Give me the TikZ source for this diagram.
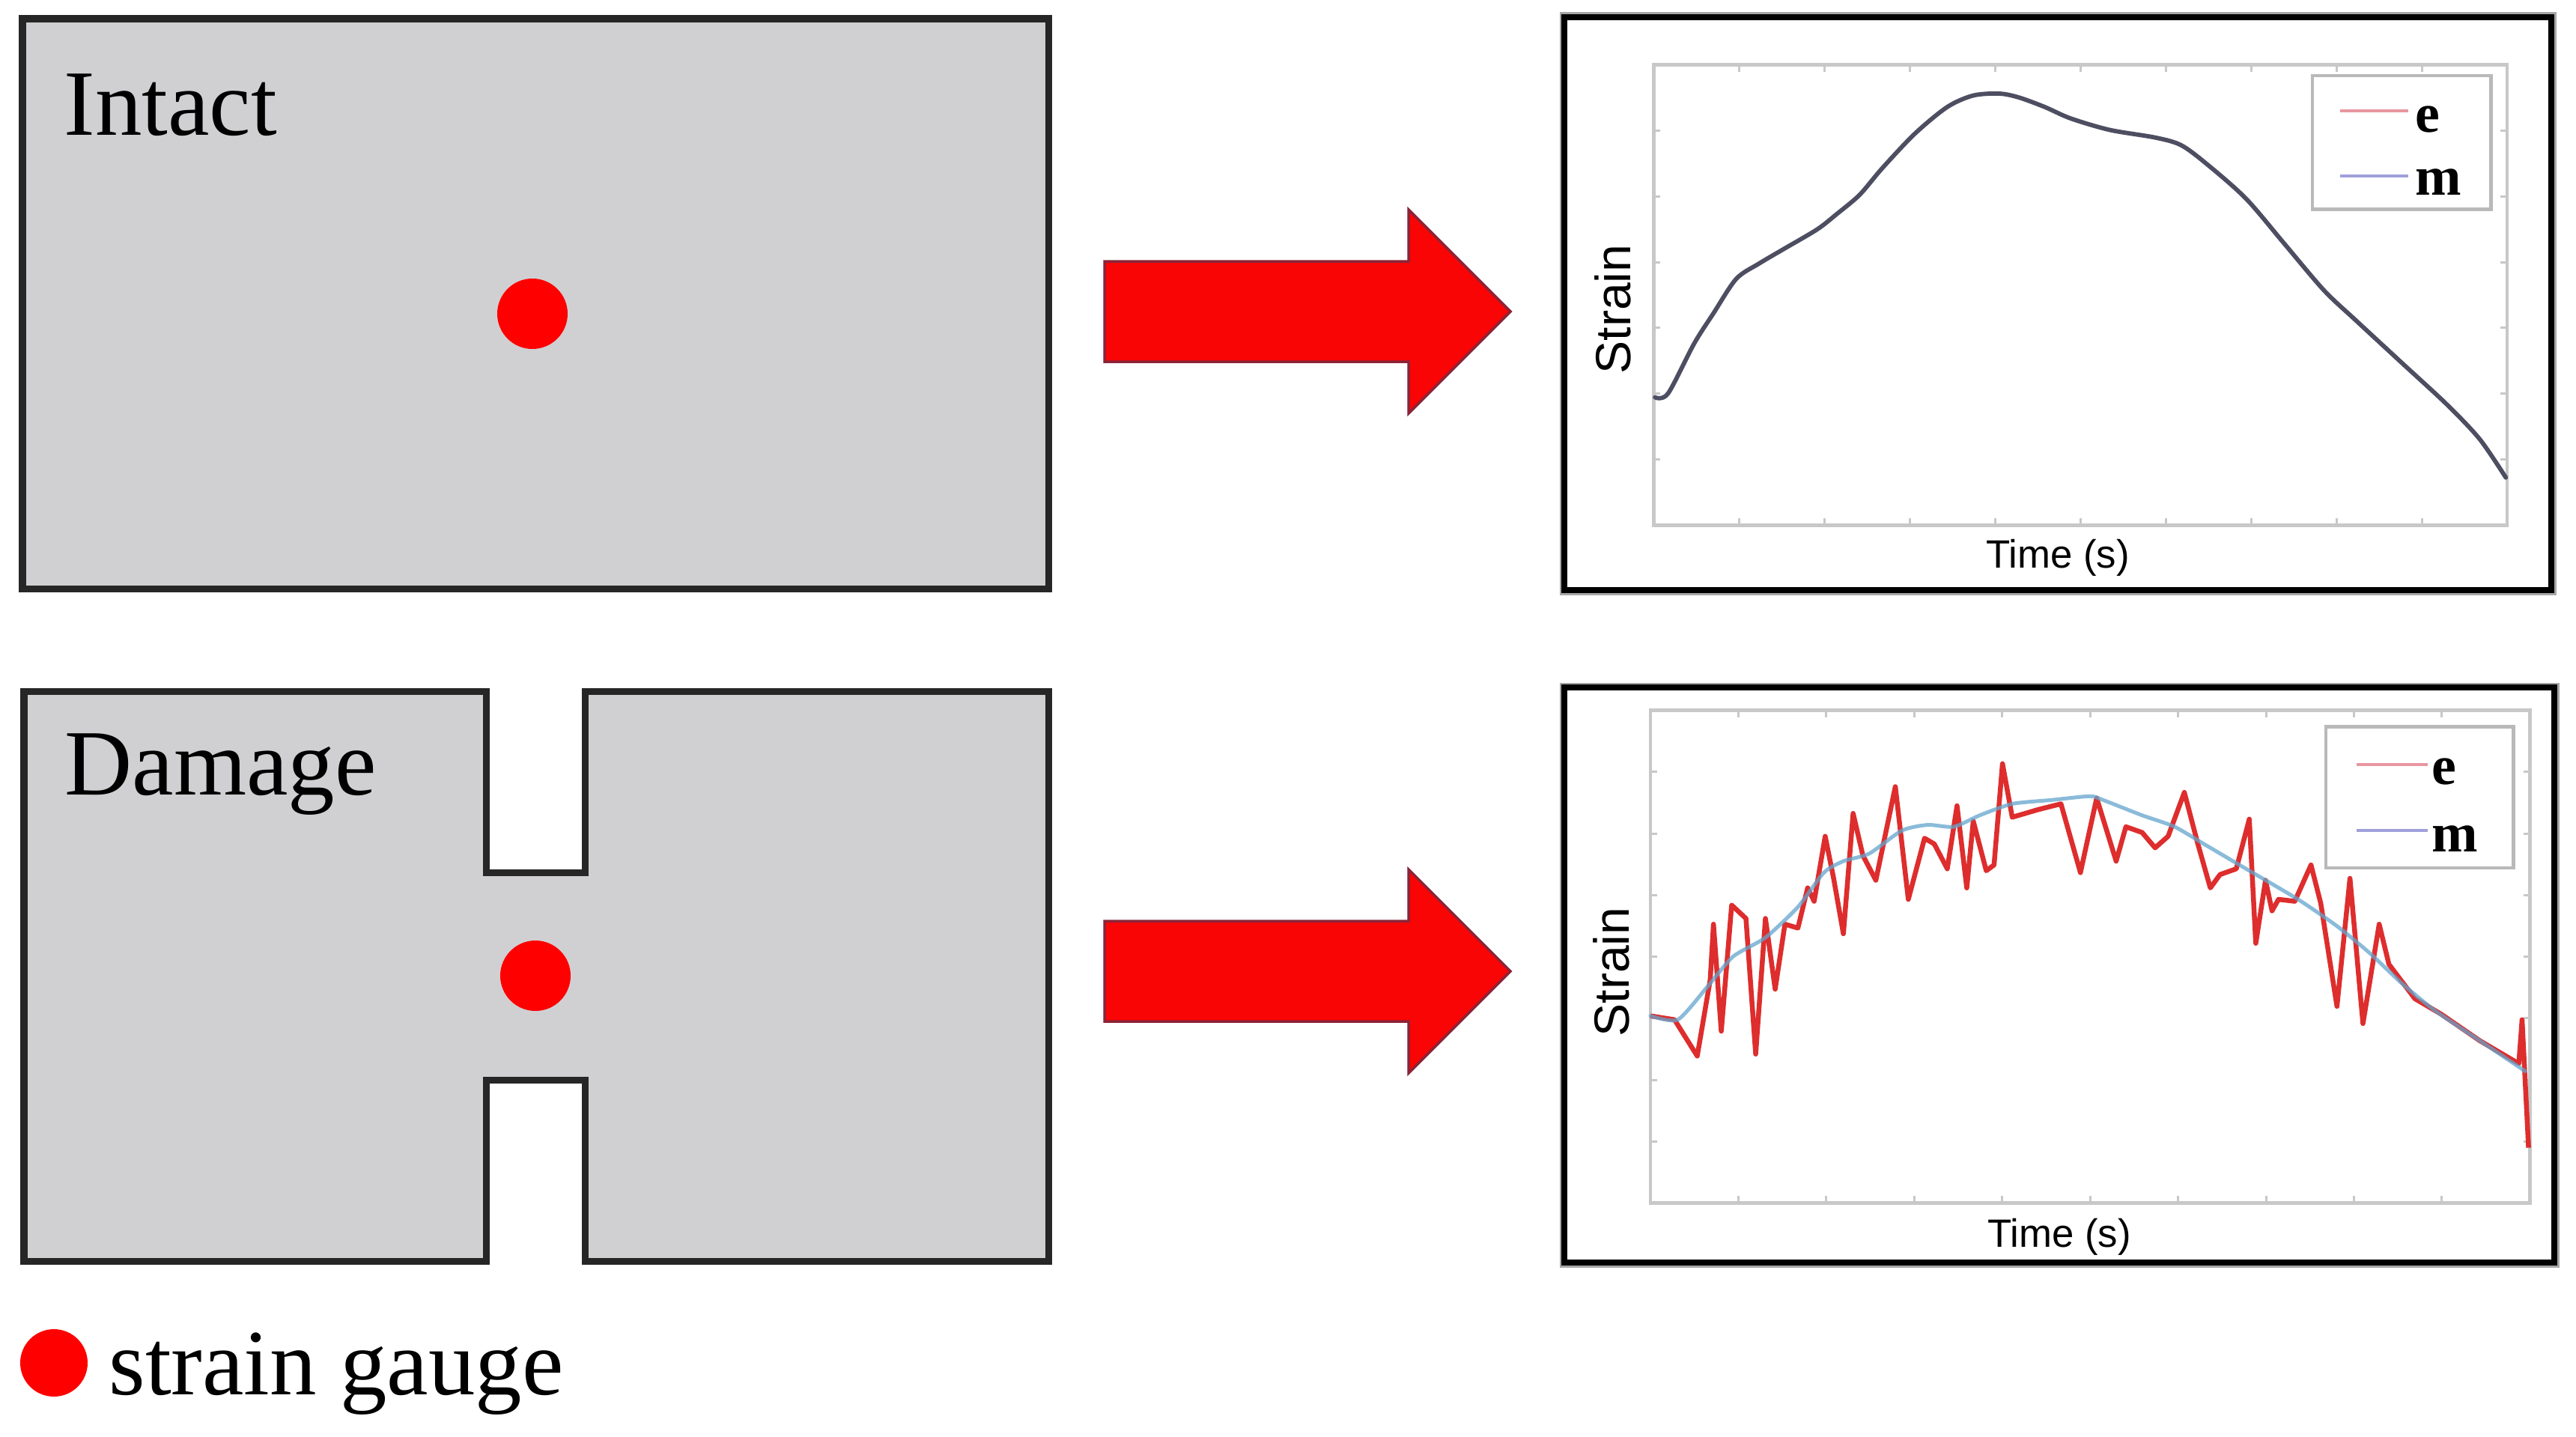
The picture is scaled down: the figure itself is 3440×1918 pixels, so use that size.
\documentclass[tikz,border=0pt]{standalone}
\usepackage{fontspec}
\setmainfont{Liberation Serif}
\newfontfamily\arialf{Liberation Sans}
\definecolor{panelgray}{RGB}{208,208,210}
\definecolor{paneledge}{RGB}{38,38,38}
\definecolor{gaugered}{RGB}{255,0,0}
\definecolor{arrowred}{RGB}{250,5,5}
\definecolor{arrowedge}{RGB}{140,35,55}
\definecolor{axisgray}{RGB}{200,200,200}
\definecolor{leggray}{RGB}{185,185,185}
\definecolor{curvegray}{RGB}{78,78,98}
\definecolor{noisered}{RGB}{222,45,45}
\definecolor{smoothblue}{RGB}{100,165,205}
\definecolor{legred}{RGB}{232,150,160}
\definecolor{legblue}{RGB}{160,160,220}
\tikzset{
  panel/.style={fill=panelgray, draw=paneledge, line width=0.09cm, line join=miter},
  gauge/.style={fill=gaugered},
  bigarrow/.style={fill=arrowred, draw=arrowedge, line width=0.035cm, line join=miter},
  plotframe/.style={draw=black, line width=0.085cm},
  plothalo/.style={draw=gray!70, line width=0.13cm},
  axisbox/.style={draw=axisgray, line width=0.045cm},
  tickmark/.style={draw=axisgray, line width=0.03cm},
  legbox/.style={draw=leggray, line width=0.045cm, fill=white},
  bigtext/.style={font=\fontsize{35.5}{40}\selectfont, inner sep=0pt},
  axlabel/.style={font=\arialf\fontsize{18.8}{22}\selectfont, inner sep=0pt},
  timelabel/.style={font=\arialf\fontsize{15}{18}\selectfont, inner sep=0pt},
  legtext/.style={font=\bfseries\fontsize{21}{24}\selectfont, inner sep=0pt},
}
\begin{document}
\begin{tikzpicture}[x=0.01cm,y=-0.01cm]
\useasboundingbox[fill=white] (0,0) rectangle (3440,1918);

% ---------- left panels ----------
\draw[panel] (30,25) rectangle (1400,786);
\node[bigtext, anchor=base west] (intact) at (85,180) {Intact};
\fill[gauge] (711,419) circle (47);

\draw[panel] (32,923) -- (649,923) -- (649,1165) -- (781,1165) -- (781,923)
  -- (1400,923) -- (1400,1684) -- (781,1684) -- (781,1442) -- (649,1442)
  -- (649,1684) -- (32,1684) -- cycle;
\node[bigtext, anchor=base west] (damage) at (86,1061) {Damage};
\fill[gauge] (715,1303) circle (47);

\fill[gauge] (72,1820) circle (45);
\node[bigtext, anchor=base west] (sg) at (145,1862) {strain gauge};

% ---------- arrows ----------
\foreach \dy in {0,881}{
  \draw[bigarrow] (1475,349+\dy) -- (1881,349+\dy) -- (1881,280+\dy) -- (2017,416+\dy)
    -- (1881,552+\dy) -- (1881,483+\dy) -- (1475,483+\dy) -- cycle;
}

% ---------- top plot ----------
\draw[plothalo] (2089,23) rectangle (3407,788);
\draw[plotframe, fill=white] (2089,23) rectangle (3407,788);
\begin{scope}[shift={(2080,0)}, xscale=0.8673, yscale=0.5102]
  \draw[axisbox] (148,170) rectangle (1462,1375);
  \foreach \k in {1,...,9}{
    \draw[tickmark] (148+\k*131.4,1375) -- (148+\k*131.4,1357);
    \draw[tickmark] (148+\k*131.4,170) -- (148+\k*131.4,188);
  }
  \foreach \k in {1,...,6}{
    \draw[tickmark] (148,170+\k*172.1) -- (158,170+\k*172.1);
    \draw[tickmark] (1462,170+\k*172.1) -- (1452,170+\k*172.1);
  }
  \draw[curvegray, line width=0.058cm, line join=round, line cap=round] plot[smooth, tension=0.5] coordinates {
    (150,1040) (170,1030) (210,900) (240,820) (275,730) (310,690) (350,650)
    (400,600) (430,560) (465,510) (500,440) (550,350) (600,280) (640,250)
    (680,245) (710,255) (750,280) (790,310) (850,340) (920,360) (960,380)
    (1000,430) (1060,520) (1120,640) (1180,760) (1230,840) (1300,950)
    (1370,1060) (1420,1150) (1460,1250)};
  \draw[legbox] (1162,198) rectangle (1437,548);
  \draw[legred, line width=0.04cm] (1205,290) -- (1310,290);
  \draw[legblue, line width=0.04cm] (1205,460) -- (1310,460);
  \node[legtext, anchor=base west] (legeA) at (1320,345) {e};
  \node[legtext, anchor=base west] (legmA) at (1320,510) {m};
\end{scope}
\node[axlabel, rotate=90] (strainA) at (2154,413) {Strain};
\node[timelabel] (timeA) at (2748,745) {Time (s)};

% ---------- bottom plot ----------
\draw[plothalo] (2089,918) rectangle (3411,1686);
\draw[plotframe, fill=white] (2089,918) rectangle (3411,1686);
\begin{scope}[shift={(2080,900)}, xscale=0.8673, yscale=0.5102]
  \draw[axisbox] (143,95) rectangle (1497,1385);
  \foreach \k in {1,...,9}{
    \draw[tickmark] (143+\k*135.4,1385) -- (143+\k*135.4,1367);
    \draw[tickmark] (143+\k*135.4,95) -- (143+\k*135.4,113);
  }
  \foreach \k in {1,...,7}{
    \draw[tickmark] (143,95+\k*161.25) -- (153,95+\k*161.25);
    \draw[tickmark] (1497,95+\k*161.25) -- (1487,95+\k*161.25);
  }
  \draw[noisered, line width=0.065cm, line join=round] plot coordinates {
    (143,895) (180,905) (215,1000) (235,800) (240,655) (252,935) (268,605)
    (290,640) (305,995) (320,640) (335,825) (350,655) (370,665) (385,560)
    (395,595) (412,425) (425,535) (440,680) (455,365) (470,475) (490,540)
    (520,295) (540,590) (565,430) (580,445) (600,510) (615,345) (630,560)
    (640,385) (660,515) (672,500) (685,235) (700,375) (740,355) (775,340)
    (805,520) (830,325) (860,490) (875,400) (900,415) (920,455) (940,425)
    (965,310) (985,440) (1005,560) (1020,525) (1045,510) (1065,380)
    (1075,705) (1090,540) (1100,620) (1110,590) (1135,595) (1160,500)
    (1175,600) (1200,870) (1220,535) (1240,915) (1265,655) (1280,760)
    (1320,850) (1360,890) (1420,960) (1480,1020) (1485,905) (1495,1240)};
  \draw[smoothblue, opacity=0.75, line width=0.05cm, line join=round, line cap=round] plot[smooth, tension=0.4] coordinates {
    (143,895) (185,905) (230,820) (270,740) (320,690) (370,610) (410,520)
    (440,490) (480,470) (530,410) (570,395) (610,400) (650,370) (700,340)
    (760,330) (820,320) (840,330) (900,370) (950,400) (1000,450) (1060,510)
    (1140,590) (1200,660) (1250,730) (1300,810) (1350,880) (1420,960) (1490,1040)};
  \draw[legbox] (1183,138) rectangle (1472,508);
  \draw[legred, line width=0.04cm] (1230,237) -- (1340,237);
  \draw[legblue, line width=0.04cm] (1230,410) -- (1340,410);
  \node[legtext, anchor=base west] (legeB) at (1345,290) {e};
  \node[legtext, anchor=base west] (legmB) at (1345,465) {m};
\end{scope}
\node[axlabel, rotate=90] (strainB) at (2152,1298) {Strain};
\node[timelabel] (timeB) at (2750,1652) {Time (s)};
\end{tikzpicture}
\end{document}
